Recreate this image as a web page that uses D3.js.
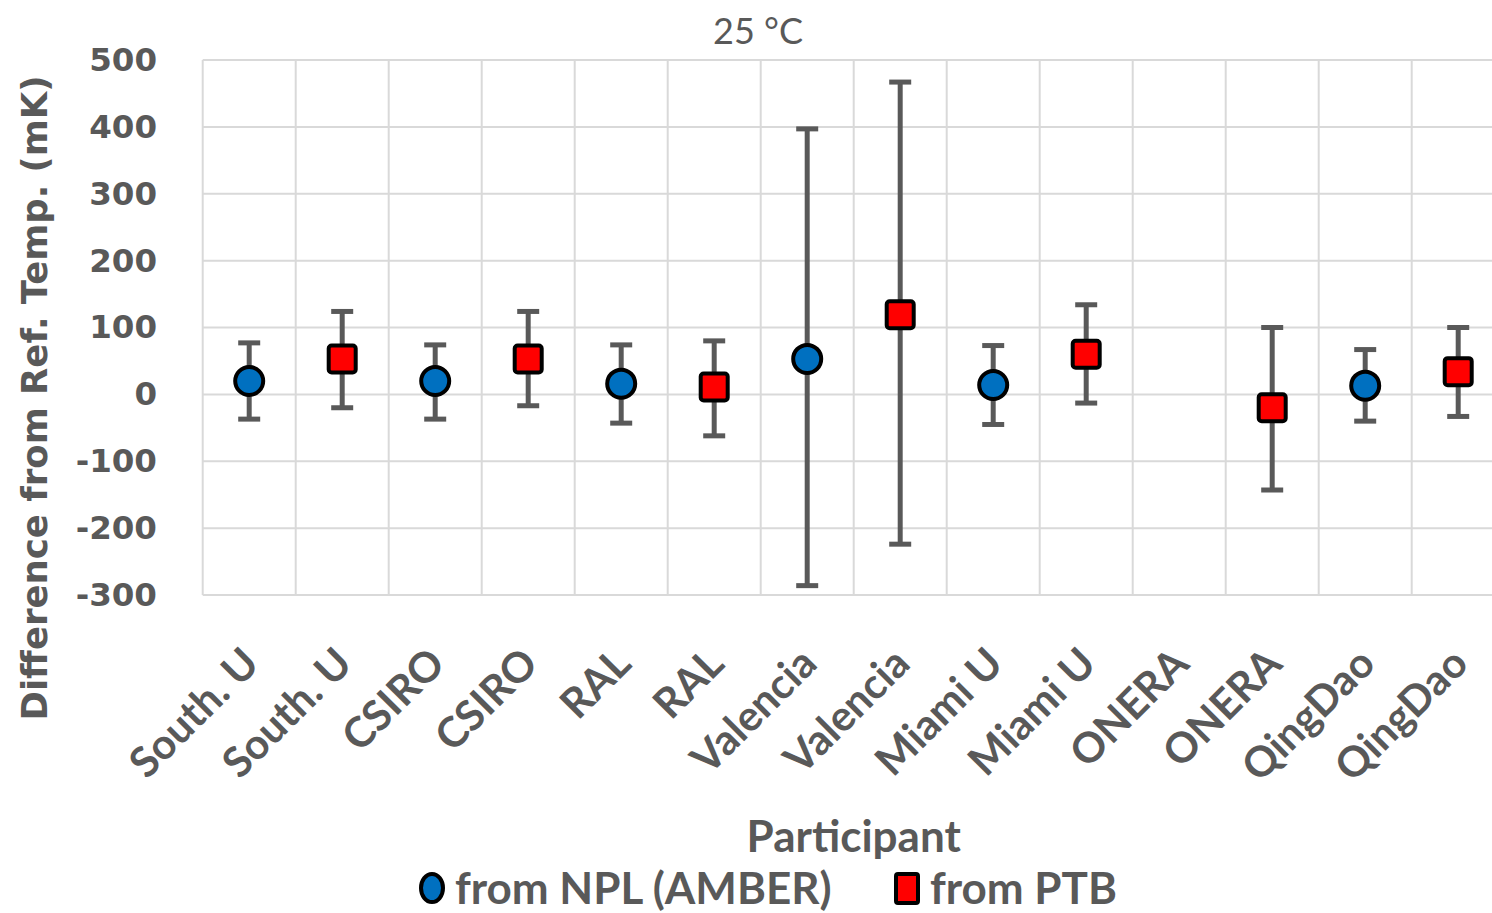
<!DOCTYPE html>
<html>
<head>
<meta charset="utf-8">
<script src="https://cdn.jsdelivr.net/npm/d3@7"></script>
<style>
  html, body { margin: 0; padding: 0; background: #fff; overflow: hidden; }
  svg { display: block; }
</style>
</head>
<body>
<div id="chart"></div>
<script>
// Participants along x (each lab appears twice: NPL then PTB reference)
const participants = ["South. U", "South. U", "CSIRO", "CSIRO", "RAL", "RAL", "Valencia", "Valencia",
    "Miami U", "Miami U", "ONERA", "ONERA", "QingDao", "QingDao"];

// from NPL (AMBER) - value, upper and lower error bar ends (mK)
const nplValue = [20, null, 20, null, 16, null, 53, null, 14, null, null, null, 13, null];
const nplUpper = [77, null, 74, null, 74, null, 397, null, 73, null, null, null, 67, null];
const nplLower = [-37, null, -37, null, -43, null, -286, null, -45, null, null, null, -40, null];

// from PTB
const ptbValue = [null, 53, null, 53, null, 11, null, 119, null, 60, null, -20, null, 34];
const ptbUpper = [null, 124, null, 124, null, 80, null, 467, null, 134, null, 100, null, 100];
const ptbLower = [null, -20, null, -17, null, -62, null, -224, null, -13, null, -143, null, -33];

const yTicks = [-300, -200, -100, 0, 100, 200, 300, 400, 500];

const width = 1492, height = 913;
const plot = { left: 202.7, right: 1504.7, top: 60, bottom: 595 };
const textGray = "#595959";
const gridGray = "#d9d9d9";

const svg = d3.select("#chart").append("svg")
    .attr("width", width)
    .attr("height", height);

const x = d3.scaleBand()
    .domain(d3.range(participants.length))
    .range([plot.left, plot.right]);

const y = d3.scaleLinear()
    .domain([-300, 500])
    .range([plot.bottom, plot.top]);

// gridlines
svg.append("g").selectAll("line.h")
    .data(yTicks)
    .enter().append("line")
    .attr("x1", plot.left).attr("x2", plot.right)
    .attr("y1", d => y(d)).attr("y2", d => y(d))
    .attr("stroke", gridGray).attr("stroke-width", 2);

svg.append("g").selectAll("line.v")
    .data(d3.range(participants.length + 1))
    .enter().append("line")
    .attr("x1", d => plot.left + d * x.step()).attr("x2", d => plot.left + d * x.step())
    .attr("y1", plot.top).attr("y2", plot.bottom)
    .attr("stroke", gridGray).attr("stroke-width", 2);

// y axis labels (plain hyphen for negatives, like the original)
const yAxis = svg.append("g")
    .attr("transform", `translate(157,0)`)
    .call(d3.axisLeft(y).tickValues(yTicks).tickSize(0).tickPadding(0).tickFormat(d => String(d)));
yAxis.select(".domain").remove();
yAxis.selectAll("text")
    .attr("fill", textGray)
    .style("font-family", "'DejaVu Sans', sans-serif")
    .style("font-weight", "bold")
    .style("font-size", "32.5px");

// x axis labels, rotated
const xAxis = svg.append("g")
    .attr("transform", `translate(0,${plot.bottom})`)
    .call(d3.axisBottom(x).tickSize(0).tickFormat(i => participants[i]));
xAxis.select(".domain").remove();
xAxis.selectAll("text")
    .attr("fill", textGray)
    .attr("text-anchor", "end")
    .attr("dy", null)
    .attr("y", 0)
    .attr("transform", "translate(12,71) rotate(-45)")
    .style("font-family", "Lato, sans-serif")
    .style("font-weight", "bold")
    .style("font-size", "42px");

// error bars + markers
function drawSeries(values, upper, lower, shape) {
    const data = values.map((v, i) => ({ i, v, hi: upper[i], lo: lower[i] }))
        .filter(d => d.v !== null);
    const g = svg.append("g");
    const cx = d => x(d.i) + x.bandwidth() / 2;

    g.selectAll("line.bar").data(data).enter().append("line")
        .attr("x1", cx).attr("x2", cx)
        .attr("y1", d => y(d.hi)).attr("y2", d => y(d.lo))
        .attr("stroke", "#595959").attr("stroke-width", 5);

    ["hi", "lo"].forEach(k => {
        g.selectAll("line.cap-" + k).data(data).enter().append("line")
            .attr("x1", d => cx(d) - 11).attr("x2", d => cx(d) + 11)
            .attr("y1", d => y(d[k])).attr("y2", d => y(d[k]))
            .attr("stroke", "#595959").attr("stroke-width", 5);
    });

    if (shape === "circle") {
        g.selectAll("circle").data(data).enter().append("circle")
            .attr("cx", cx).attr("cy", d => y(d.v))
            .attr("r", 14)
            .attr("fill", "#0070c0").attr("stroke", "#000").attr("stroke-width", 4);
    } else {
        g.selectAll("rect").data(data).enter().append("rect")
            .attr("x", d => cx(d) - 13.5).attr("y", d => y(d.v) - 13.5)
            .attr("width", 27).attr("height", 27).attr("rx", 3)
            .attr("fill", "#ff0000").attr("stroke", "#000").attr("stroke-width", 4);
    }
}

drawSeries(nplValue, nplUpper, nplLower, "circle");
drawSeries(ptbValue, ptbUpper, ptbLower, "square");

// titles
svg.append("text")
    .attr("x", 758).attr("y", 44)
    .attr("text-anchor", "middle")
    .attr("fill", textGray)
    .style("font-family", "Lato, sans-serif")
    .style("font-size", "36px")
    .text("25 °C");

svg.append("text")
    .attr("transform", "translate(47,398) rotate(-90)")
    .attr("text-anchor", "middle")
    .attr("fill", textGray)
    .style("font-family", "'DejaVu Sans', sans-serif")
    .style("font-weight", "bold")
    .style("font-size", "35.5px")
    .text("Difference from Ref. Temp. (mK)");

svg.append("text")
    .attr("x", (plot.left + plot.right) / 2).attr("y", 852)
    .attr("text-anchor", "middle")
    .attr("fill", textGray)
    .style("font-family", "Lato, sans-serif")
    .style("font-weight", "bold")
    .style("font-size", "44px")
    .text("Participant");

// legend
const legend = svg.append("g")
    .style("font-family", "Lato, sans-serif")
    .style("font-weight", "bold")
    .style("font-size", "44px")
    .attr("fill", textGray);

legend.append("ellipse")
    .attr("cx", 432).attr("cy", 888).attr("rx", 11).attr("ry", 14)
    .attr("fill", "#0070c0").attr("stroke", "#000").attr("stroke-width", 4);
legend.append("text").attr("x", 455).attr("y", 904).text("from NPL (AMBER)");

legend.append("rect")
    .attr("x", 896).attr("y", 874).attr("width", 22).attr("height", 29).attr("rx", 2)
    .attr("fill", "#ff0000").attr("stroke", "#000").attr("stroke-width", 4);
legend.append("text").attr("x", 930).attr("y", 904).text("from PTB");
</script>
</body>
</html>
